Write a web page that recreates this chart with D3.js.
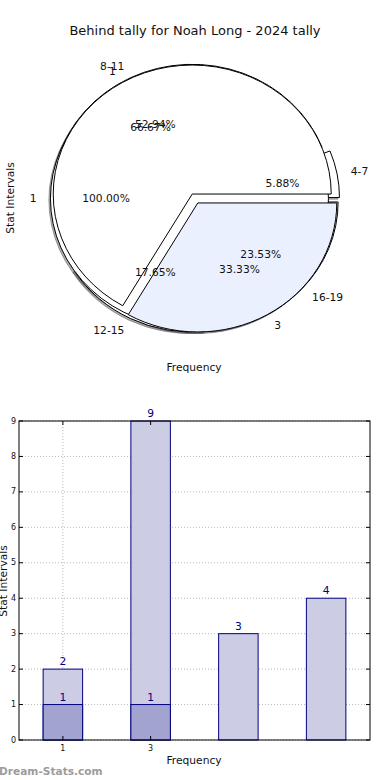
<!DOCTYPE html>
<html>
<head>
<meta charset="utf-8">
<script src="https://cdn.jsdelivr.net/npm/d3@7"></script>
<style>
  html, body { margin: 0; padding: 0; background: #fff; }
  svg { display: block; font-family: "DejaVu Sans", sans-serif; }
</style>
</head>
<body>
<svg id="chart" width="390" height="780"></svg>
<script>
// ---------- data ----------
const chartTitle = "Behind tally for Noah Long - 2024 tally";
// three overlapping pies (drawn in this order)
const pieLabelsA = ["4-7", "8-11", "12-15", "16-19"];
const pieValuesA = [1, 9, 3, 4];
const pieLabelsC = ["1"];
const pieValuesC = [1];
const pieLabelsB = ["1", "3"];
const pieValuesB = [2, 1];
const pieColors = ["#ffffff", "#ebf0ff"];

// bar chart
const barTickLabels = ["1", "3"];
const barSeriesLight = [2, 9, 3, 4];
const barSeriesDark = [1, 1];
const barYTicks = [0, 1, 2, 3, 4, 5, 6, 7, 8, 9];
const axisLabelX = "Frequency";
const axisLabelY = "Stat Intervals";
const watermark = "Dream-Stats.com";

// ---------- drawing ----------
const svg = d3.select("#chart");
const FS = 10.7;

svg.append("text")
  .attr("x", 195).attr("y", 30)
  .attr("text-anchor", "middle").attr("dominant-baseline", "central")
  .attr("font-size", 13).attr("fill", "#111")
  .text(chartTitle);

// ---- pies ----
const P = { cx: 195, cy: 198.5, rx: 139, ry: 129, explode: 0.04 };
const pieGen = d3.pie().sort(null).value(d => d)
  .startAngle(Math.PI / 2).endAngle(Math.PI / 2 - 2 * Math.PI);
const arcGen = d3.arc().innerRadius(0).outerRadius(1);

function prep(values, labels) {
  const total = d3.sum(values);
  return pieGen(values).map((a, i) => {
    const phiMid = (a.startAngle + a.endAngle) / 2;
    const theta = Math.PI / 2 - phiMid; // math angle, counter-clockwise from east
    const c = Math.cos(theta), s = Math.sin(theta);
    return {
      arc: a, label: labels[i], pct: d3.format(".2f")(a.value / total * 100) + "%",
      c, s,
      ox: P.explode * P.rx * c, oy: -P.explode * P.ry * s,
      color: pieColors[i % pieColors.length]
    };
  });
}
const pies = [prep(pieValuesA, pieLabelsA), prep(pieValuesC, pieLabelsC), prep(pieValuesB, pieLabelsB)];

const shadowLayer = svg.append("g");
const wedgeLayer = svg.append("g");
const textLayer = svg.append("g");

pies.forEach(slices => {
  slices.forEach(d => {
    const col = d3.color(d.color);
    const sc = d3.rgb(col.r * 0.3, col.g * 0.3, col.b * 0.3);
    shadowLayer.append("path")
      .attr("d", arcGen(d.arc))
      .attr("transform", `translate(${P.cx + d.ox - 1.6},${P.cy + d.oy + 1.6}) scale(${P.rx},${P.ry})`)
      .attr("fill", sc).attr("fill-opacity", 0.45)
      .attr("stroke", sc).attr("stroke-opacity", 0.45)
      .attr("stroke-width", 1).attr("vector-effect", "non-scaling-stroke");
  });
});
pies.forEach(slices => {
  slices.forEach(d => {
    wedgeLayer.append("path")
      .attr("d", arcGen(d.arc))
      .attr("transform", `translate(${P.cx + d.ox},${P.cy + d.oy}) scale(${P.rx},${P.ry})`)
      .attr("fill", d.color)
      .attr("stroke", "#000").attr("stroke-width", 1)
      .attr("stroke-linejoin", "miter")
      .attr("vector-effect", "non-scaling-stroke");
  });
});
pies.forEach(slices => {
  slices.forEach(d => {
    const bx = P.cx + d.ox, by = P.cy + d.oy;
    textLayer.append("text")
      .attr("x", bx + 1.1 * P.rx * d.c).attr("y", by - 1.1 * P.ry * d.s)
      .attr("text-anchor", d.c > 1e-9 ? "start" : "end")
      .attr("dominant-baseline", "central")
      .attr("font-size", FS).attr("fill", "#111")
      .text(d.label);
    textLayer.append("text")
      .attr("x", bx + 0.6 * P.rx * d.c).attr("y", by - 0.6 * P.ry * d.s)
      .attr("text-anchor", "middle").attr("dominant-baseline", "central")
      .attr("font-size", FS).attr("fill", "#111")
      .text(d.pct);
  });
});

svg.append("text")
  .attr("transform", "translate(10,198) rotate(-90)")
  .attr("text-anchor", "middle").attr("dominant-baseline", "central")
  .attr("font-size", FS).attr("fill", "#111").text(axisLabelY);
svg.append("text")
  .attr("x", 194).attr("y", 367)
  .attr("text-anchor", "middle").attr("dominant-baseline", "central")
  .attr("font-size", FS).attr("fill", "#111").text(axisLabelX);

// ---- bar chart ----
const B = { left: 19, right: 370, top: 421, bottom: 740 };
const x = d3.scaleLinear().domain([-0.5, barSeriesLight.length - 0.5]).range([B.left, B.right]);
const y = d3.scaleLinear().domain([0, 9]).range([B.bottom, B.top]);
const barW = 0.45;
const g = svg.append("g");

// grid
g.selectAll("line.hgrid").data(barYTicks).join("line")
  .attr("x1", B.left).attr("x2", B.right)
  .attr("y1", d => y(d)).attr("y2", d => y(d))
  .attr("stroke", "#b8b8b8").attr("stroke-width", 1).attr("stroke-dasharray", "1,2");
g.selectAll("line.vgrid").data(barTickLabels).join("line")
  .attr("x1", (d, i) => x(i)).attr("x2", (d, i) => x(i))
  .attr("y1", B.top).attr("y2", B.bottom)
  .attr("stroke", "#b8b8b8").attr("stroke-width", 1).attr("stroke-dasharray", "1,2");

// bars
g.selectAll("rect.light").data(barSeriesLight).join("rect")
  .attr("x", (d, i) => x(i - barW / 2)).attr("width", x(barW) - x(0))
  .attr("y", d => y(d)).attr("height", d => y(0) - y(d))
  .attr("fill", "#cccce5").attr("stroke", "#000080").attr("stroke-width", 1);
g.selectAll("rect.dark").data(barSeriesDark).join("rect")
  .attr("x", (d, i) => x(i - barW / 2)).attr("width", x(barW) - x(0))
  .attr("y", d => y(d)).attr("height", d => y(0) - y(d))
  .attr("fill", "#a3a3d0").attr("stroke", "#000080").attr("stroke-width", 1);

// frame
g.append("rect")
  .attr("x", B.left).attr("y", B.top)
  .attr("width", B.right - B.left).attr("height", B.bottom - B.top)
  .attr("fill", "none").attr("stroke", "#000").attr("stroke-width", 1);

// ticks
barYTicks.forEach(t => {
  g.append("line").attr("x1", B.left).attr("x2", B.left + 4).attr("y1", y(t)).attr("y2", y(t)).attr("stroke", "#000");
  g.append("line").attr("x1", B.right - 4).attr("x2", B.right).attr("y1", y(t)).attr("y2", y(t)).attr("stroke", "#000");
  g.append("text").attr("x", B.left - 3).attr("y", y(t))
    .attr("text-anchor", "end").attr("dominant-baseline", "central")
    .attr("font-size", 8).attr("fill", "#111").text(t);
});
barTickLabels.forEach((t, i) => {
  g.append("line").attr("x1", x(i)).attr("x2", x(i)).attr("y1", B.bottom).attr("y2", B.bottom - 4).attr("stroke", "#000");
  g.append("line").attr("x1", x(i)).attr("x2", x(i)).attr("y1", B.top).attr("y2", B.top + 4).attr("stroke", "#000");
  g.append("text").attr("x", x(i)).attr("y", B.bottom + 8)
    .attr("text-anchor", "middle").attr("dominant-baseline", "central")
    .attr("font-size", 8).attr("fill", "#111").text(t);
});

// value labels
[barSeriesLight, barSeriesDark].forEach(series => {
  series.forEach((v, i) => {
    g.append("text").attr("x", x(i)).attr("y", y(v) - 4)
      .attr("text-anchor", "middle")
      .attr("font-size", FS).attr("fill", "#000080").text(v);
  });
});

svg.append("text")
  .attr("x", 194).attr("y", 760)
  .attr("text-anchor", "middle").attr("dominant-baseline", "central")
  .attr("font-size", FS).attr("fill", "#111").text(axisLabelX);
svg.append("text")
  .attr("transform", "translate(3,581) rotate(-90)")
  .attr("text-anchor", "middle").attr("dominant-baseline", "central")
  .attr("font-size", FS).attr("fill", "#111").text(axisLabelY);

svg.append("text")
  .attr("x", -1).attr("y", 771)
  .attr("dominant-baseline", "central")
  .attr("font-size", 10.6).attr("font-weight", "bold").attr("fill", "#9c9c9c").text(watermark);
</script>
</body>
</html>
